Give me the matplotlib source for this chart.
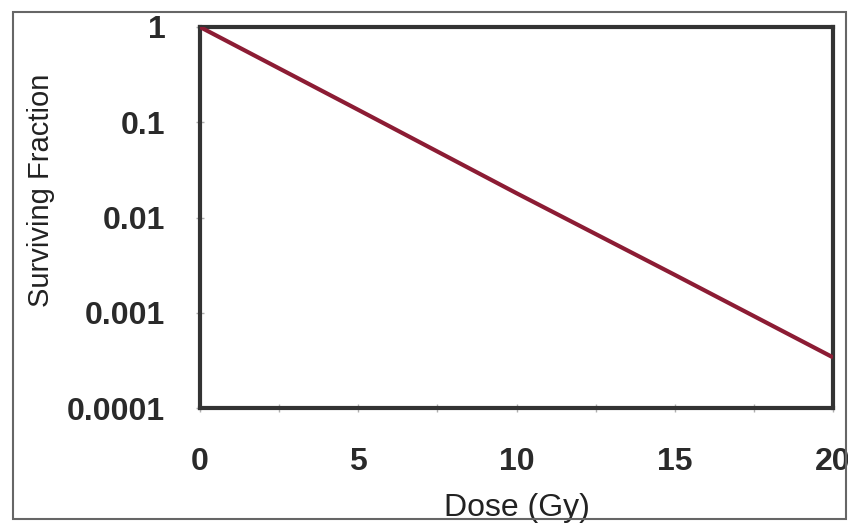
import numpy as np
import matplotlib.pyplot as plt
from matplotlib.patches import Rectangle
from matplotlib.ticker import FixedLocator, NullFormatter

# survival curve read at a few doses
dose = [0, 5, 10, 15, 20]
surviving = [1.0, 0.135, 0.018, 0.0025, 0.00034]

xticks = [0, 5, 10, 15, 20]
yticks = [0.0001, 0.001, 0.01, 0.1, 1]
ylabels = ['0.0001', '0.001', '0.01', '0.1', '1']

plt.rcParams['font.family'] = ['Liberation Sans', 'DejaVu Sans']

fig = plt.figure(figsize=(8.48, 5.25), dpi=100)
ax = fig.add_axes([200/848, 1 - 408/525, 633/848, 381/525])

ax.plot(dose, surviving, color='#8c1c34', lw=3, solid_capstyle='butt', zorder=3)

ax.set_yscale('log')
ax.set_xlim(0, 20)
ax.set_ylim(0.0001, 1)
ax.set_xticks(xticks)
ax.set_yticks(yticks)
ax.set_yticklabels(ylabels)
ax.yaxis.set_minor_locator(FixedLocator([]))
ax.yaxis.set_minor_formatter(NullFormatter())
ax.xaxis.set_minor_locator(FixedLocator([2.5, 7.5, 12.5, 17.5]))

ax.tick_params(axis='both', which='both', direction='inout', length=6, width=1,
               color='#b0b0b0', labelsize=23, labelcolor='#2a2a2a')
ax.tick_params(axis='y', pad=22)
ax.tick_params(axis='x', pad=25)
for lab in ax.get_xticklabels() + ax.get_yticklabels():
    lab.set_fontweight('bold')

for s in ax.spines.values():
    s.set_linewidth(3)
    s.set_color('#333333')

ax.set_xlabel('Dose (Gy)', fontsize=23, color='#222222')
ax.xaxis.set_label_coords(0.5, -0.222)
ax.set_ylabel('Surviving Fraction', fontsize=21, color='#222222')
ax.yaxis.set_label_coords(-0.229, 0.572)

# thin frame round the whole chart
fig.patches.append(Rectangle((13/848, 1 - 519/525), 833/848, 507/525,
                             transform=fig.transFigure, fill=False,
                             lw=1.5, edgecolor='#666666'))

fig.savefig('out.png', dpi=100)
